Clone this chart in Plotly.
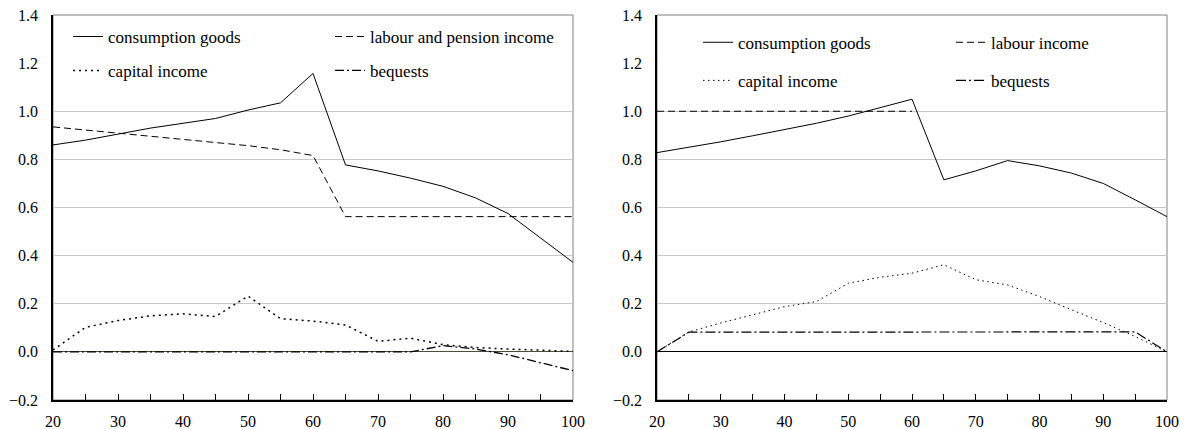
import plotly.graph_objects as go

ages = [20, 25, 30, 35, 40, 45, 50, 55, 60, 65, 70, 75, 80, 85, 90, 95, 100]

# Left panel
left_consumption = [0.86, 0.88, 0.905, 0.93, 0.95, 0.97, 1.005, 1.035, 1.157, 0.777, 0.752, 0.722, 0.688, 0.64, 0.575, 0.475, 0.372]
left_labour = [0.935, 0.922, 0.908, 0.895, 0.884, 0.87, 0.857, 0.84, 0.816, 0.562, 0.562, 0.562, 0.562, 0.562, 0.562, 0.562, 0.562]
left_capital = [0.008, 0.102, 0.13, 0.15, 0.158, 0.147, 0.232, 0.138, 0.128, 0.112, 0.044, 0.057, 0.03, 0.018, 0.012, 0.006, 0.002]
left_bequests = [0.0, 0.0, 0.0, 0.0, 0.0, 0.0, 0.0, 0.0, 0.0, 0.0, 0.0, 0.0, 0.026, 0.012, -0.012, -0.045, -0.078]

# Right panel
right_consumption = [0.828, 0.85, 0.873, 0.898, 0.923, 0.95, 0.98, 1.015, 1.05, 0.715, 0.752, 0.795, 0.773, 0.743, 0.70, 0.632, 0.562]
right_labour_ages = [20, 25, 30, 35, 40, 45, 50, 55, 60]
right_labour = [1.0, 1.0, 1.0, 1.0, 1.0, 1.0, 1.0, 1.0, 1.0]
right_capital = [0.0, 0.083, 0.12, 0.155, 0.188, 0.209, 0.285, 0.31, 0.327, 0.362, 0.30, 0.278, 0.23, 0.175, 0.122, 0.064, 0.0]
right_bequests = [0.0, 0.082, 0.082, 0.082, 0.082, 0.083, 0.085, 0.085, 0.085, 0.085, 0.085, 0.083, 0.083, 0.083, 0.083, 0.083, 0.0]

left_names = ["consumption goods", "labour and pension income", "capital income", "bequests"]
right_names = ["consumption goods", "labour income", "capital income", "bequests"]

y_ticks = [-0.2, 0.0, 0.2, 0.4, 0.6, 0.8, 1.0, 1.2, 1.4]
y_grid = [0.2, 0.4, 0.6, 0.8, 1.0]
x_major = [20, 30, 40, 50, 60, 70, 80, 90, 100]
x_minor = [25, 35, 45, 55, 65, 75, 85, 95]

FONT = "Liberation Serif, Times New Roman, serif"

fig = go.Figure()

# left
fig.add_trace(go.Scatter(x=ages, y=left_consumption, name=left_names[0], mode="lines",
                         line=dict(color="black", width=1), xaxis="x", yaxis="y", legend="legend"))
fig.add_trace(go.Scatter(x=ages, y=left_labour, name=left_names[1], mode="lines",
                         line=dict(color="black", width=1, dash="7px,4px"), xaxis="x", yaxis="y", legend="legend"))
fig.add_trace(go.Scatter(x=ages, y=left_capital, name=left_names[2], mode="lines",
                         line=dict(color="black", width=1.5, dash="2px,4px"), xaxis="x", yaxis="y", legend="legend2"))
fig.add_trace(go.Scatter(x=ages, y=left_bequests, name=left_names[3], mode="lines",
                         line=dict(color="black", width=1.3, dash="9px,3px,2px,3px"), xaxis="x", yaxis="y", legend="legend2"))

# right
fig.add_trace(go.Scatter(x=ages, y=right_consumption, name=right_names[0], mode="lines",
                         line=dict(color="black", width=1), xaxis="x2", yaxis="y2", legend="legend3"))
fig.add_trace(go.Scatter(x=right_labour_ages, y=right_labour, name=right_names[1], mode="lines",
                         line=dict(color="black", width=1, dash="7px,4px"), xaxis="x2", yaxis="y2", legend="legend3"))
fig.add_trace(go.Scatter(x=ages, y=right_capital, name=right_names[2], mode="lines",
                         line=dict(color="black", width=1, dash="1.5px,3.5px"), xaxis="x2", yaxis="y2", legend="legend4"))
fig.add_trace(go.Scatter(x=ages, y=right_bequests, name=right_names[3], mode="lines",
                         line=dict(color="black", width=1.2, dash="10px,3px,2px,3px"), xaxis="x2", yaxis="y2", legend="legend4"))

xaxis_common = dict(
    range=[20, 100], tickvals=x_major,
    ticks="inside", ticklen=6, tickcolor="black", tickwidth=1,
    minor=dict(tickvals=x_minor, ticks="inside", ticklen=6, tickcolor="black", tickwidth=1, showgrid=False),
    showline=True, linecolor="black", linewidth=2, showgrid=False, zeroline=False,
    tickfont=dict(family=FONT, size=16, color="black"), fixedrange=True,
    ticklabeloverflow="allow", ticklabelstandoff=6,
)
yaxis_common = dict(
    range=[-0.2, 1.4], tickvals=y_ticks, tickformat=".1f", ticks="",
    showline=True, linecolor="black", linewidth=1.5,
    showgrid=False,
    minor=dict(tickvals=y_grid, ticks="", showgrid=True, gridcolor="#c8c8c8", gridwidth=1),
    zeroline=True, zerolinewidth=1,
    tickfont=dict(family=FONT, size=16, color="black"), ticklabelstandoff=10,
    ticklabeloverflow="allow",
)

legend_common = dict(orientation="h", xanchor="left", yanchor="middle",
                     bgcolor="rgba(0,0,0,0)", font=dict(family=FONT, size=17, color="black"),
                     itemwidth=30)

fig.update_layout(
    width=1187, height=429,
    margin=dict(l=53, r=20, t=15, b=29, autoexpand=False),
    paper_bgcolor="white", plot_bgcolor="white",
    font=dict(family=FONT, size=16, color="black"),
    xaxis=dict(domain=[0, 0.4668], anchor="y", **xaxis_common),
    yaxis=dict(anchor="x", zerolinecolor="#4d4d40", **yaxis_common),
    xaxis2=dict(domain=[0.5422, 1.0], anchor="y2", **xaxis_common),
    yaxis2=dict(anchor="x2", zerolinecolor="black", **yaxis_common),
    legend=dict(x=0.0135, y=0.943, entrywidth=217, **legend_common),
    legend2=dict(x=0.0135, y=0.855, entrywidth=217, **legend_common),
    legend3=dict(x=0.579, y=0.928, entrywidth=208, **legend_common),
    legend4=dict(x=0.579, y=0.829, entrywidth=208, **legend_common),
    shapes=[
        dict(type="rect", xref="x domain", yref="y domain", x0=0, x1=1, y0=0, y1=1,
             line=dict(color="#808080", width=1), layer="below"),
        dict(type="rect", xref="x2 domain", yref="y2 domain", x0=0, x1=1, y0=0, y1=1,
             line=dict(color="#808080", width=1), layer="below"),
    ],
)

fig.write_html(
    "out.html",
    config={"displayModeBar": False},
    post_script="document.body.style.margin='0';document.body.style.overflow='hidden';",
)
